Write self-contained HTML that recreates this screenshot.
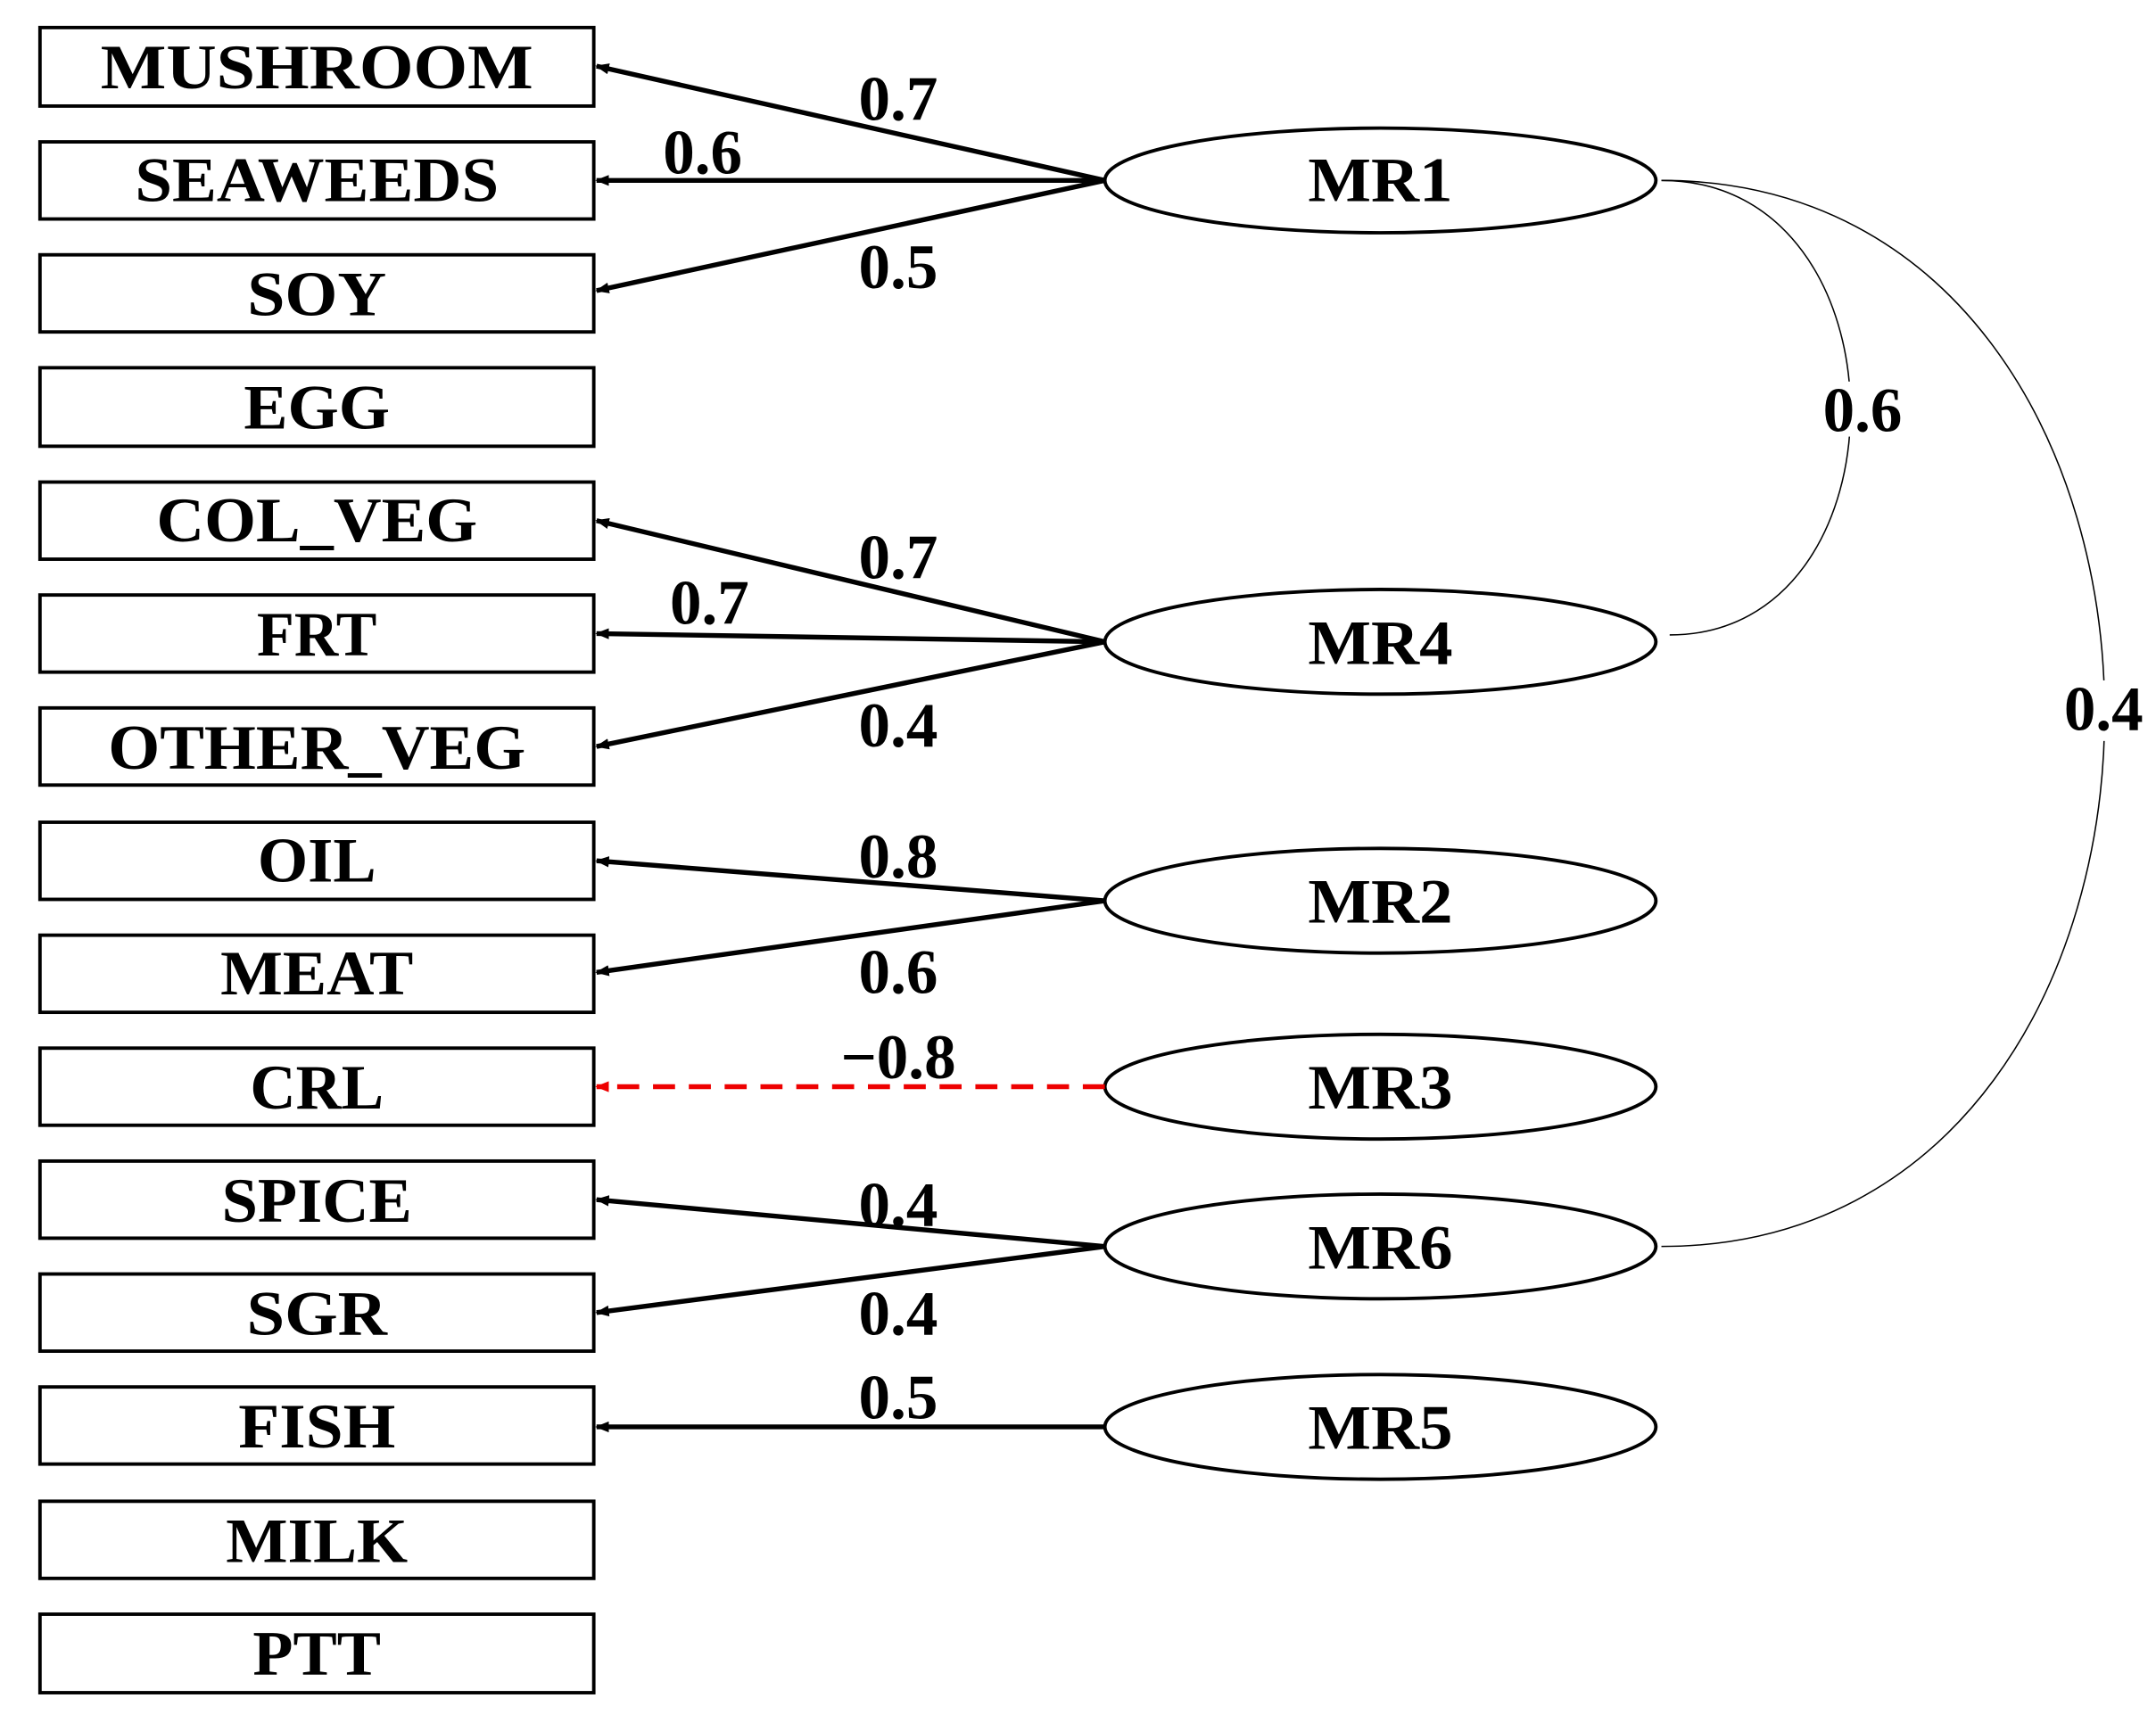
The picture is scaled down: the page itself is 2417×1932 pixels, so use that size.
<!DOCTYPE html>
<html><head><meta charset="utf-8"><style>html,body{margin:0;padding:0;background:#fff}svg{display:block}</style></head>
<body>
<svg width="2417" height="1932" viewBox="0 0 1565 1251" xmlns="http://www.w3.org/2000/svg">
<defs>
<marker id="a" markerWidth="10" markerHeight="8" refX="9" refY="4" orient="auto" markerUnits="userSpaceOnUse"><path d="M0,0 L10,4 L0,8 z" fill="#000"/></marker>
<marker id="r" markerWidth="10" markerHeight="8" refX="9" refY="4" orient="auto" markerUnits="userSpaceOnUse"><path d="M0,0 L10,4 L0,8 z" fill="#e00"/></marker>
</defs>
<g font-family="'Liberation Serif',serif" font-weight="bold" font-size="46" text-anchor="middle">
<g fill="none" stroke="#000" stroke-width="2.5">
<rect x="29" y="20" width="402" height="57"/><rect x="29" y="103" width="402" height="56"/><rect x="29" y="185" width="402" height="56"/>
<rect x="29" y="267" width="402" height="57"/><rect x="29" y="350" width="402" height="56"/><rect x="29" y="432" width="402" height="56"/>
<rect x="29" y="514" width="402" height="56"/><rect x="29" y="597" width="402" height="56"/><rect x="29" y="679" width="402" height="56"/>
<rect x="29" y="761" width="402" height="56"/><rect x="29" y="843" width="402" height="56"/><rect x="29" y="925" width="402" height="56"/>
<rect x="29" y="1007" width="402" height="56"/><rect x="29" y="1090" width="402" height="56"/><rect x="29" y="1172" width="402" height="57"/>
<ellipse cx="1002" cy="131" rx="200" ry="38"/><ellipse cx="1002" cy="466" rx="200" ry="38"/><ellipse cx="1002" cy="654" rx="200" ry="38"/>
<ellipse cx="1002" cy="789" rx="200" ry="38"/><ellipse cx="1002" cy="905" rx="200" ry="38"/><ellipse cx="1002" cy="1036" rx="200" ry="38"/>
</g>
<g stroke="#000" stroke-width="3.5" marker-end="url(#a)">
<line x1="802" y1="131" x2="433" y2="48"/><line x1="802" y1="131" x2="433" y2="131"/><line x1="802" y1="131" x2="433" y2="211"/>
<line x1="802" y1="466" x2="433" y2="378"/><line x1="802" y1="466" x2="433" y2="460"/><line x1="802" y1="466" x2="433" y2="542"/>
<line x1="802" y1="654" x2="433" y2="625"/><line x1="802" y1="654" x2="433" y2="706"/>
<line x1="802" y1="905" x2="433" y2="871"/><line x1="802" y1="905" x2="433" y2="953"/>
<line x1="802" y1="1036" x2="433" y2="1036"/>
</g>
<line x1="802" y1="789" x2="433" y2="789" stroke="#e00" stroke-width="3.5" stroke-dasharray="16,10" marker-end="url(#r)"/>
<g fill="none" stroke="#000" stroke-width="1">
<path d="M1206,131 C1388,131 1388,461 1212,461"/>
<path d="M1206,131 C1635,131 1635,905 1206,905"/>
</g>
<rect x="1318" y="277" width="68" height="40" fill="#fff"/>
<rect x="1494" y="494" width="66" height="44" fill="#fff"/>
<g fill="#000" lengthAdjust="spacingAndGlyphs">
<text x="230" y="64" textLength="314" lengthAdjust="spacingAndGlyphs">MUSHROOM</text>
<text x="230" y="146" textLength="264" lengthAdjust="spacingAndGlyphs">SEAWEEDS</text>
<text x="230" y="229" textLength="101" lengthAdjust="spacingAndGlyphs">SOY</text>
<text x="230" y="311" textLength="106" lengthAdjust="spacingAndGlyphs">EGG</text>
<text x="230" y="393" textLength="233" lengthAdjust="spacingAndGlyphs">COL_VEG</text>
<text x="230" y="476" textLength="87" lengthAdjust="spacingAndGlyphs">FRT</text>
<text x="230" y="558" textLength="303" lengthAdjust="spacingAndGlyphs">OTHER_VEG</text>
<text x="230" y="640" textLength="86" lengthAdjust="spacingAndGlyphs">OIL</text>
<text x="230" y="722" textLength="140" lengthAdjust="spacingAndGlyphs">MEAT</text>
<text x="230" y="805" textLength="97" lengthAdjust="spacingAndGlyphs">CRL</text>
<text x="230" y="887" textLength="138" lengthAdjust="spacingAndGlyphs">SPICE</text>
<text x="230" y="969" textLength="102" lengthAdjust="spacingAndGlyphs">SGR</text>
<text x="230" y="1051" textLength="114" lengthAdjust="spacingAndGlyphs">FISH</text>
<text x="230" y="1134" textLength="132" lengthAdjust="spacingAndGlyphs">MILK</text>
<text x="230" y="1216" textLength="93" lengthAdjust="spacingAndGlyphs">PTT</text>
<text x="1002" y="146" textLength="105" lengthAdjust="spacingAndGlyphs">MR1</text>
<text x="1002" y="482" textLength="105" lengthAdjust="spacingAndGlyphs">MR4</text>
<text x="1002" y="670" textLength="105" lengthAdjust="spacingAndGlyphs">MR2</text>
<text x="1002" y="805" textLength="105" lengthAdjust="spacingAndGlyphs">MR3</text>
<text x="1002" y="921" textLength="105" lengthAdjust="spacingAndGlyphs">MR6</text>
<text x="1002" y="1052" textLength="105" lengthAdjust="spacingAndGlyphs">MR5</text>
<text x="652" y="87">0.7</text><text x="510" y="126">0.6</text><text x="652" y="209">0.5</text>
<text x="652" y="420">0.7</text><text x="515" y="453">0.7</text><text x="652" y="542">0.4</text>
<text x="652" y="637">0.8</text><text x="652" y="721">0.6</text><text x="652" y="783">−0.8</text>
<text x="652" y="890">0.4</text><text x="652" y="969">0.4</text><text x="652" y="1030">0.5</text>
<text x="1352" y="313">0.6</text><text x="1527" y="530">0.4</text>
</g>
</g>
</svg>
</body></html>
